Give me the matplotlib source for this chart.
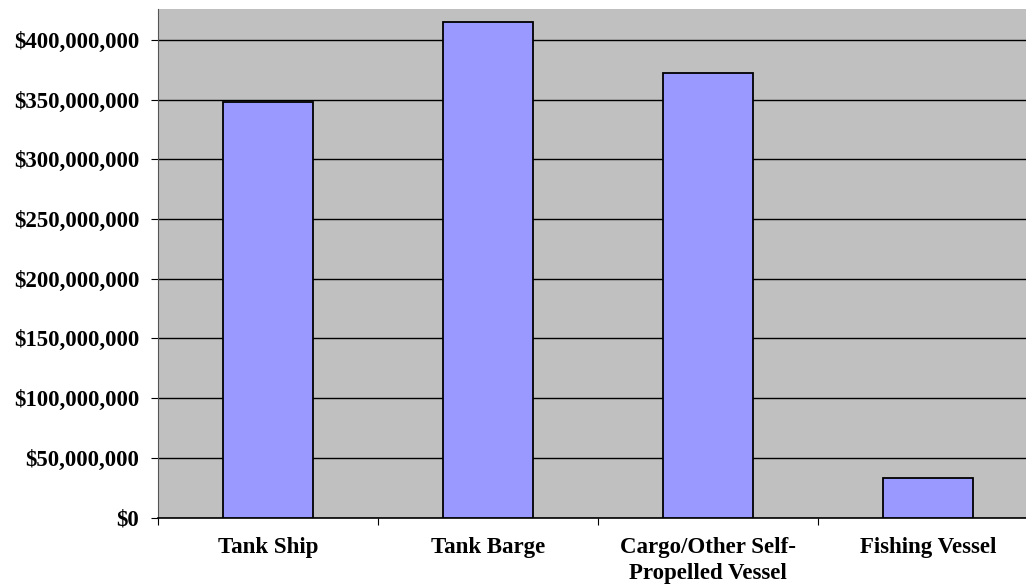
import matplotlib
matplotlib.use("Agg")
import matplotlib.pyplot as plt
from matplotlib.ticker import FuncFormatter

# vessel categories and damage totals (USD)
categories = ["Tank Ship", "Tank Barge", "Cargo/Other Self-\nPropelled Vessel", "Fishing Vessel"]
damages = [348_000_000, 415_000_000, 372_000_000, 33_500_000]
yticks = [0, 50e6, 100e6, 150e6, 200e6, 250e6, 300e6, 350e6, 400e6]

plt.rcParams["font.family"] = ["Liberation Serif", "DejaVu Serif"]
plt.rcParams["font.weight"] = "bold"

fig = plt.figure(figsize=(10.26, 5.86), dpi=100)
W, H = 1026, 586
# plot area runs a little past the right edge
ax = fig.add_axes([158 / W, 1 - 517.5 / H, (1038 - 158) / W, (517.5 - 9) / H])
ax.set_facecolor("#C0C0C0")

x = list(range(len(categories)))
ax.bar(x, damages, width=0.41, color="#9999FF", edgecolor="black", linewidth=1.3, zorder=3)

ax.set_xlim(-0.5, len(categories) - 0.5)
ax.set_ylim(0, 426e6)
ax.set_yticks(yticks)
ax.yaxis.set_major_formatter(FuncFormatter(lambda v, p: "${:,.0f}".format(v)))
ax.grid(axis="y", color="black", linewidth=1.0, zorder=1)

ax.set_xticks([i + 0.5 for i in x[:-1]] + [-0.5])
ax.set_xticklabels([])
ax.set_xticks(x, minor=True)
ax.set_xticklabels(categories, minor=True, fontsize=16.5, fontweight="bold", linespacing=1.32)
ax.tick_params(axis="x", which="minor", length=0, pad=14)
ax.tick_params(axis="x", which="major", length=5, width=0.8, direction="out")
ax.tick_params(axis="y", length=5, width=0.8, labelsize=16.5, pad=8.5)
for lab in ax.get_yticklabels():
    lab.set_fontweight("bold")

for s in ["top", "right"]:
    ax.spines[s].set_visible(False)
ax.spines["left"].set_color("#555555")
ax.spines["bottom"].set_color("black")
ax.spines["bottom"].set_linewidth(1.2)

fig.savefig("out.png", dpi=100, facecolor="white")
